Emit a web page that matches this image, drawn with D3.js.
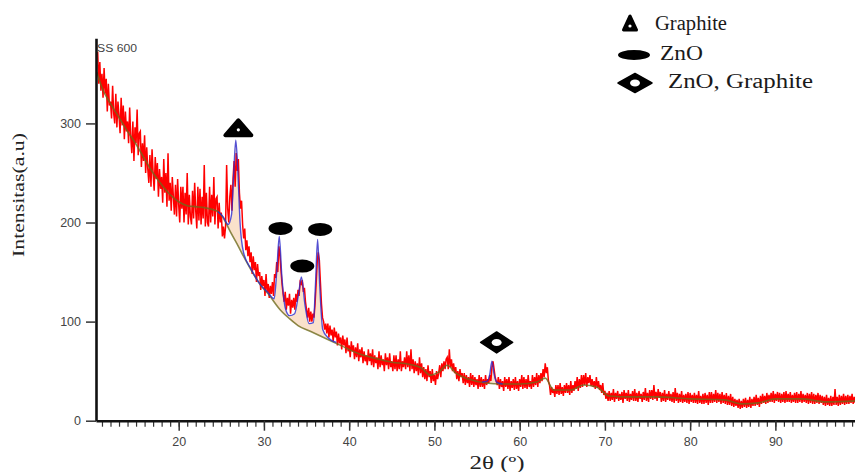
<!DOCTYPE html>
<html>
<head>
<meta charset="utf-8">
<script src="https://cdn.jsdelivr.net/npm/d3@7"></script>
<style>
  body { margin: 0; background: #fff; }
  svg { display: block; }
</style>
</head>
<body>
<svg id="chart" width="855" height="472"></svg>
<script>
// raw scan, one value every 0.125 deg from 10.5 deg (one row = one degree)
const thetaStart = 10.5
const thetaStep = 0.125
const intensity = [
  372, 340, 362, 333, 350, 326, 356, 330,
  345, 312, 340, 318, 322, 305, 338, 310,
  300, 330, 296, 322, 308, 290, 326, 298,
  318, 284, 312, 292, 302, 280, 316, 286,
  270, 302, 262, 296, 280, 314, 268, 290,
  292, 256, 280, 262, 288, 250, 276, 254,
  240, 268, 236, 274, 250, 232, 266, 244,
  260, 226, 254, 234, 246, 220, 264, 230,
  250, 216, 270, 222, 240, 212, 246, 226,
  208, 238, 206, 244, 218, 200, 236, 214,
  236, 200, 230, 208, 250, 198, 228, 206,
  198, 232, 204, 240, 212, 194, 236, 202,
  234, 198, 226, 204, 258, 196, 230, 200,
  196, 236, 200, 228, 206, 246, 198, 224,
  226, 194, 220, 200, 210, 186, 196, 184,
  196, 258, 214, 200, 226, 238, 212, 244,
  262, 236, 270, 252, 264, 230, 214, 222,
  198, 184, 194, 172, 182, 166, 176, 160,
  170, 148, 166, 152, 160, 140, 158, 146,
  150, 132, 146, 136, 142, 126, 148, 130,
  138, 124, 136, 128, 140, 126, 148, 144,
  160, 150, 176, 168, 152, 138, 128, 120,
  130, 112, 124, 116, 128, 108, 122, 114,
  124, 112, 128, 120, 132, 126, 140, 138,
  142, 130, 134, 120, 112, 104, 114, 100,
  110, 100, 108, 104, 118, 138, 160, 170,
  162, 140, 118, 104, 100, 92, 98, 88,
  98, 84, 96, 86, 92, 80, 94, 84,
  90, 76, 88, 78, 84, 72, 86, 76,
  82, 68, 84, 70, 76, 64, 80, 70,
  76, 62, 74, 64, 78, 60, 72, 64,
  74, 58, 70, 60, 66, 56, 72, 60,
  68, 56, 72, 54, 66, 58, 64, 52,
  70, 54, 66, 56, 62, 50, 68, 56,
  64, 52, 68, 54, 60, 50, 66, 52,
  66, 50, 62, 52, 70, 50, 60, 54,
  64, 52, 70, 54, 66, 50, 72, 52,
  62, 48, 60, 50, 58, 46, 64, 48,
  58, 44, 54, 42, 52, 40, 56, 44,
  50, 38, 52, 40, 46, 36, 50, 42,
  48, 56, 44, 58, 50, 60, 52, 62,
  64, 52, 72, 54, 62, 50, 58, 48,
  54, 42, 50, 40, 52, 44, 48, 38,
  48, 36, 46, 38, 44, 34, 48, 36,
  46, 34, 44, 36, 42, 32, 46, 34,
  44, 34, 42, 32, 46, 36, 42, 38,
  46, 40, 54, 60, 52, 44, 40, 36,
  44, 32, 42, 34, 40, 30, 44, 34,
  42, 32, 44, 30, 40, 33, 42, 31,
  44, 32, 40, 30, 42, 34, 46, 32,
  44, 33, 42, 32, 46, 34, 40, 32,
  46, 34, 44, 36, 48, 34, 46, 38,
  48, 40, 52, 44, 58, 48, 54, 40,
  36, 26, 34, 28, 32, 24, 36, 27,
  36, 26, 38, 27, 34, 25, 36, 28,
  38, 28, 36, 26, 40, 28, 36, 30,
  40, 32, 44, 30, 42, 33, 46, 34,
  46, 36, 48, 34, 44, 38, 46, 35,
  42, 34, 40, 32, 44, 33, 40, 31,
  36, 28, 38, 26, 30, 22, 28, 20,
  30, 20, 28, 21, 32, 19, 28, 22,
  30, 20, 27, 21, 29, 18, 31, 22,
  28, 20, 31, 19, 27, 21, 30, 20,
  32, 20, 28, 19, 30, 22, 27, 19,
  29, 21, 33, 20, 28, 19, 31, 22,
  31, 21, 36, 22, 29, 20, 32, 23,
  29, 19, 28, 20, 31, 19, 27, 21,
  30, 20, 27, 19, 29, 18, 33, 20,
  28, 18, 27, 19, 30, 18, 26, 19,
  27, 18, 29, 17, 28, 19, 26, 18,
  28, 18, 26, 17, 30, 18, 25, 17,
  27, 17, 28, 18, 26, 16, 29, 18,
  29, 18, 27, 19, 31, 18, 28, 19,
  27, 17, 29, 18, 26, 17, 28, 16,
  25, 16, 27, 15, 24, 14, 22, 15,
  21, 13, 22, 12, 20, 13, 22, 14,
  23, 13, 21, 14, 24, 13, 22, 15,
  24, 15, 26, 16, 23, 14, 25, 17,
  27, 18, 25, 17, 28, 18, 26, 19,
  28, 19, 30, 18, 27, 20, 29, 19,
  28, 18, 27, 19, 29, 18, 30, 19,
  27, 19, 29, 18, 26, 19, 28, 18,
  29, 18, 27, 19, 30, 18, 27, 19,
  26, 18, 28, 17, 27, 18, 29, 17,
  27, 17, 26, 18, 28, 17, 26, 18,
  25, 16, 24, 15, 26, 16, 23, 15,
  25, 15, 24, 16, 32, 16, 24, 15,
  26, 16, 25, 17, 27, 16, 25, 17,
  26, 17, 25, 18, 27, 17, 24, 18,
  24
]

// background line
const bgTheta = [10.4, 11, 12, 13, 14, 15, 16, 17, 18, 19, 20, 21, 22, 23, 24, 24.6, 25.2, 26.1, 27, 27.6,
  28.5, 29.6, 30.5, 31.9, 33, 34, 35.5, 37, 39, 41, 43, 45, 47, 48.5, 49.5, 50.5, 51.5, 52.5, 54, 56,
  58, 60, 62, 63, 64, 66, 67.5, 69, 70.5, 73, 76, 80, 84, 86, 88, 90, 93, 96, 99.4]
const bgValue = [352, 336, 320, 306, 292, 279, 264, 250, 238, 228, 221, 217, 216, 215, 213, 211, 205, 190, 176, 166,
  152, 137, 128, 112, 103, 96, 90, 84, 76, 68, 63, 59, 57, 53, 46, 49, 56, 48, 42, 38,
  37, 37, 39, 43, 31, 31, 36, 34, 25, 24, 24, 22, 21, 17, 18, 22, 22, 19, 20]

// peak fit, graphite + ZnO region
const fitTheta = [24.6, 25.2, 25.8, 26.2, 26.45, 26.7, 26.95, 27.2, 27.6, 28.5, 29.6, 30.5, 31.2, 31.5, 31.8,
  32.1, 32.5, 33, 33.6, 34.1, 34.4, 34.8, 35.3, 35.8, 36.05, 36.3, 36.55, 36.9, 37.5, 38.5]
const fitValue = [211, 206, 198, 208, 248, 283, 250, 200, 170, 153, 137, 129, 123, 150, 186,
  146, 114, 106, 108, 130, 145, 118, 98, 99, 138, 183, 136, 92, 84, 79]
const fitBase = [211, 205, 196, 189, 185, 181, 177, 174, 167, 153, 137, 128, 120, 117, 113,
  110, 107, 103, 98, 95, 94, 92, 91, 89, 88, 87, 86, 85, 83, 79]

// peak fit near 57 deg
const fit2Theta = [55.6, 56.2, 56.5, 56.75, 57.0, 57.3, 58]
const fit2Value = [39, 40, 47, 60, 47, 39, 37]
const fit2Base = [39, 38, 38, 38, 38, 38, 37]

// phase markers
const markerTheta = [27.0, 31.95, 34.5, 36.6, 57.3]
const markerValue = [286, 194, 156, 193, 79]
const markerPhase = ['Graphite', 'ZnO', 'ZnO', 'ZnO', 'ZnO, Graphite']

const legendLabels = ['Graphite', 'ZnO', 'ZnO, Graphite']
const xTicks = [20, 30, 40, 50, 60, 70, 80, 90]
const yTicks = [0, 100, 200, 300]

let svg = d3.select('#chart')

let x = d3.scaleLinear().domain([10.3, 99.4]).range([96, 855.5])
let y = d3.scaleLinear().domain([0, 386]).range([420.7, 38.2])

svg.append('clipPath')
  .attr('id', 'plot-clip')
  .append('rect')
  .attr('x', 96).attr('y', 30)
  .attr('width', 760).attr('height', 391)

let plot = svg.append('g').attr('clip-path', 'url(#plot-clip)')

// tan fill of the fitted peaks
let peakArea = d3.area()
  .x(d => x(d[0]))
  .y0(d => y(d[2]))
  .y1(d => y(d[1]))
  .curve(d3.curveMonotoneX)

;[[fitTheta, fitValue, fitBase], [fit2Theta, fit2Value, fit2Base]].forEach(function (f) {
  plot.append('path')
    .datum(f[0].map((t, i) => [t, f[1][i], f[2][i]]))
    .attr('d', peakArea)
    .attr('fill', '#f3b47c')
    .attr('opacity', 0.4)
})

// raw data
let rawLine = d3.line()
  .x((d, i) => x(thetaStart + i * thetaStep))
  .y(d => y(d))

plot.append('path')
  .datum(intensity)
  .attr('d', rawLine)
  .attr('fill', 'none')
  .attr('stroke', '#ff0000')
  .attr('stroke-width', 1.5)

// background
let smoothLine = d3.line()
  .x(d => x(d[0]))
  .y(d => y(d[1]))
  .curve(d3.curveMonotoneX)

plot.append('path')
  .datum(bgTheta.map((t, i) => [t, bgValue[i]]))
  .attr('d', smoothLine)
  .attr('fill', 'none')
  .attr('stroke', '#6e6a1c')
  .attr('stroke-width', 1.6)
  .attr('opacity', 0.8)

// fitted curves
;[[fitTheta, fitValue], [fit2Theta, fit2Value]].forEach(function (f) {
  plot.append('path')
    .datum(f[0].map((t, i) => [t, f[1][i]]))
    .attr('d', smoothLine)
    .attr('fill', 'none')
    .attr('stroke', '#2a2ad0')
    .attr('stroke-width', 1.4)
    .attr('opacity', 0.8)
})

// axes
let minor = svg.append('g')
  .attr('transform', 'translate(0,' + y(0) + ')')
  .call(d3.axisBottom(x).tickValues(d3.range(11, 100)).tickSize(6).tickSizeOuter(0).tickFormat(''))
minor.select('.domain').remove()
minor.selectAll('line').attr('stroke', '#333').attr('stroke-width', 1.2)

let xAxis = svg.append('g')
  .attr('transform', 'translate(0,' + y(0) + ')')
  .call(d3.axisBottom(x).tickValues(xTicks).tickSize(10).tickPadding(6).tickSizeOuter(0))

let yAxis = svg.append('g')
  .attr('transform', 'translate(' + x.range()[0] + ',0)')
  .call(d3.axisLeft(y).tickValues(yTicks).tickSize(10).tickPadding(5).tickSizeOuter(0))

;[xAxis, yAxis].forEach(function (a) {
  a.select('.domain').attr('stroke', '#111').attr('stroke-width', 2.6)
  a.selectAll('.tick line').attr('stroke', '#333').attr('stroke-width', 1.5)
  a.selectAll('.tick text')
    .attr('fill', '#444')
    .style('font-family', '"Liberation Sans", Arial, sans-serif')
    .style('font-size', '12.5px')
})

// phase markers
function drawSymbol(g, phase, small) {
  if (phase === 'Graphite') {
    let w = small ? 6.5 : 13, h = small ? 14 : 15
    g.append('path')
      .attr('d', 'M' + (-w) + ',-2L' + w + ',-2L0,' + (-2 - h) + 'Z')
      .attr('fill', '#000').attr('stroke', '#000')
      .attr('stroke-width', small ? 3 : 4).attr('stroke-linejoin', 'round')
    g.append('circle').attr('cx', 0).attr('cy', small ? -6 : -7.5).attr('r', 1.6).attr('fill', '#fff')
  } else if (phase === 'ZnO') {
    g.append('ellipse')
      .attr('rx', small ? 16 : 12).attr('ry', small ? 5 : 6.5)
      .attr('fill', '#000')
  } else {
    let w = small ? 17 : 16, h = small ? 9.5 : 10.5
    g.append('path')
      .attr('d', 'M' + (-w) + ',0L0,' + (-h) + 'L' + w + ',0L0,' + h + 'Z')
      .attr('fill', '#000').attr('stroke', '#000').attr('stroke-width', 1.5).attr('stroke-linejoin', 'round')
    g.append('ellipse').attr('rx', 5).attr('ry', 3.5).attr('fill', '#fff')
  }
}

markerTheta.forEach(function (t, i) {
  let g = svg.append('g').attr('transform', 'translate(' + x(t) + ',' + y(markerValue[i]) + ')')
  drawSymbol(g, markerPhase[i], false)
})

// legend
let legendSym = [[630, 32], [634, 55], [635, 83]]
let legendText = [[655, 30, 72], [660, 60, 43], [668, 88, 145]]
legendLabels.forEach(function (label, i) {
  let g = svg.append('g').attr('transform', 'translate(' + legendSym[i][0] + ',' + legendSym[i][1] + ')')
  drawSymbol(g, label, true)
  svg.append('text')
    .attr('x', legendText[i][0])
    .attr('y', legendText[i][1])
    .attr('textLength', legendText[i][2])
    .attr('lengthAdjust', 'spacingAndGlyphs')
    .attr('fill', '#1a1a1a')
    .style('font-family', '"Liberation Serif", "Times New Roman", serif')
    .style('font-size', '20px')
    .text(label)
})

// labels
svg.append('text')
  .attr('x', 97).attr('y', 52)
  .attr('textLength', 40).attr('lengthAdjust', 'spacingAndGlyphs')
  .attr('fill', '#444')
  .style('font-family', '"Liberation Sans", Arial, sans-serif')
  .style('font-size', '10px')
  .text('SS 600')

svg.append('text')
  .attr('transform', 'translate(24,195) rotate(-90)')
  .attr('text-anchor', 'middle')
  .attr('textLength', 124).attr('lengthAdjust', 'spacingAndGlyphs')
  .attr('fill', '#222')
  .style('font-family', '"Liberation Serif", "Times New Roman", serif')
  .style('font-size', '16px')
  .text('Intensitas(a.u)')

svg.append('text')
  .attr('x', 497).attr('y', 469)
  .attr('text-anchor', 'middle')
  .attr('textLength', 55).attr('lengthAdjust', 'spacingAndGlyphs')
  .attr('fill', '#222')
  .style('font-family', '"Liberation Serif", "Times New Roman", serif')
  .style('font-size', '18px')
  .text('2θ (º)')
</script>
</body>
</html>
